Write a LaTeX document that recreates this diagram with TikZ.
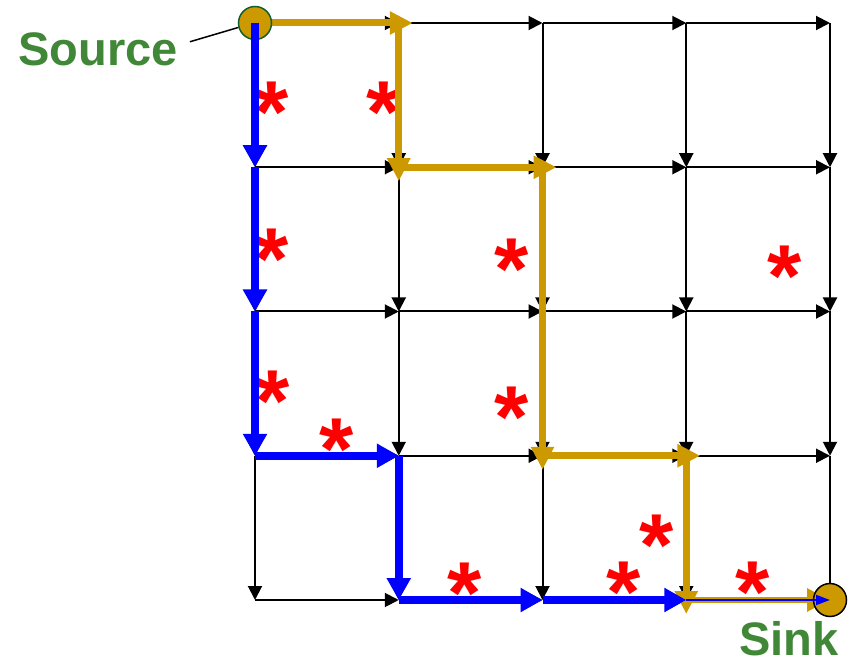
\documentclass[tikz,border=0pt]{standalone}
\usepackage{fontspec}
\setmainfont{Liberation Sans}
\usetikzlibrary{arrows.meta}
\definecolor{gold}{RGB}{204,153,0}
\definecolor{pathblue}{RGB}{0,0,255}
\definecolor{labelgreen}{RGB}{64,135,55}
\definecolor{sourcering}{RGB}{20,95,45}

\begin{document}
\begin{tikzpicture}[x=1pt, y=-1pt,
    edge/.style={line width=2pt, -{Triangle[length=14pt,width=14pt]}},
    bluepath/.style={line width=8pt, pathblue, -{Triangle[length=22pt,width=23pt]}},
    goldpath/.style={line width=7pt, gold, -{Triangle[length=23pt,width=22pt]}, shorten >=-14pt},
    redstar/.style={text=red, font=\fontsize{88}{88}\selectfont\bfseries, inner sep=0pt, anchor=base, yshift=-42pt},
    terminal/.style={circle, fill=gold, minimum size=33pt, inner sep=0pt, line width=1.5pt},
    biglabel/.style={text=labelgreen, font=\fontsize{47}{50}\selectfont\bfseries, inner xsep=12pt, inner ysep=0pt, anchor=base}
]
\useasboundingbox (0,0) rectangle (854,660);

% Grid points
\foreach \i in {0,...,4}
  \foreach \j in {0,...,4}
    \coordinate (v\i\j) at ({255+143.75*\i}, {23+144.25*\j});

% Grid edges
\foreach \i [count=\k from 1] in {0,...,3}
  \foreach \j in {0,...,4}
    \draw[edge] (v\i\j) -- (v\k\j);
\foreach \j [count=\k from 1] in {0,...,3}
  \foreach \i in {0,...,4}
    \draw[edge] (v\i\j) -- (v\i\k);

% Stars
\foreach \x/\y [count=\n] in {272/101, 384/101, 272/248, 273/389, 337/437, 512/258,
    512/405, 785/265, 657/533, 465/581, 624/580, 753/580}
  \node[redstar] (star\n) at (\x,\y) {*};

% Gold path
\draw[goldpath] (v00) -- (v10);
\draw[goldpath] (v10) -- (v11);
\draw[goldpath] (v11) -- (v21);
\draw[goldpath] (v21) -- (v23);
\draw[goldpath] (v23) -- (v33);
\draw[goldpath] (v33) -- (v34);
\draw[goldpath, line width=6pt, shorten >=0pt] (v34) -- (v44);

% Source and sink
\node[terminal, draw=sourcering] (source) at (v00) {};
\node[terminal, draw=black] (sink) at (v44) {};

% Blue path
\foreach \a/\b in {v00/v01, v01/v02, v02/v03, v03/v13, v13/v14, v14/v24, v24/v34}
  \draw[bluepath] (\a) -- (\b);
\draw[bluepath, line width=2pt, -{Triangle[length=14pt,width=10pt]}] (v34) -- (v44);

% Labels
\node[biglabel] (srclabel) at (98,66) {Source};
\node[biglabel] (sinklabel) at (789,655) {Sink};
\draw[line width=1.5pt] (srclabel.5) -- (source.195);
\end{tikzpicture}
\end{document}
